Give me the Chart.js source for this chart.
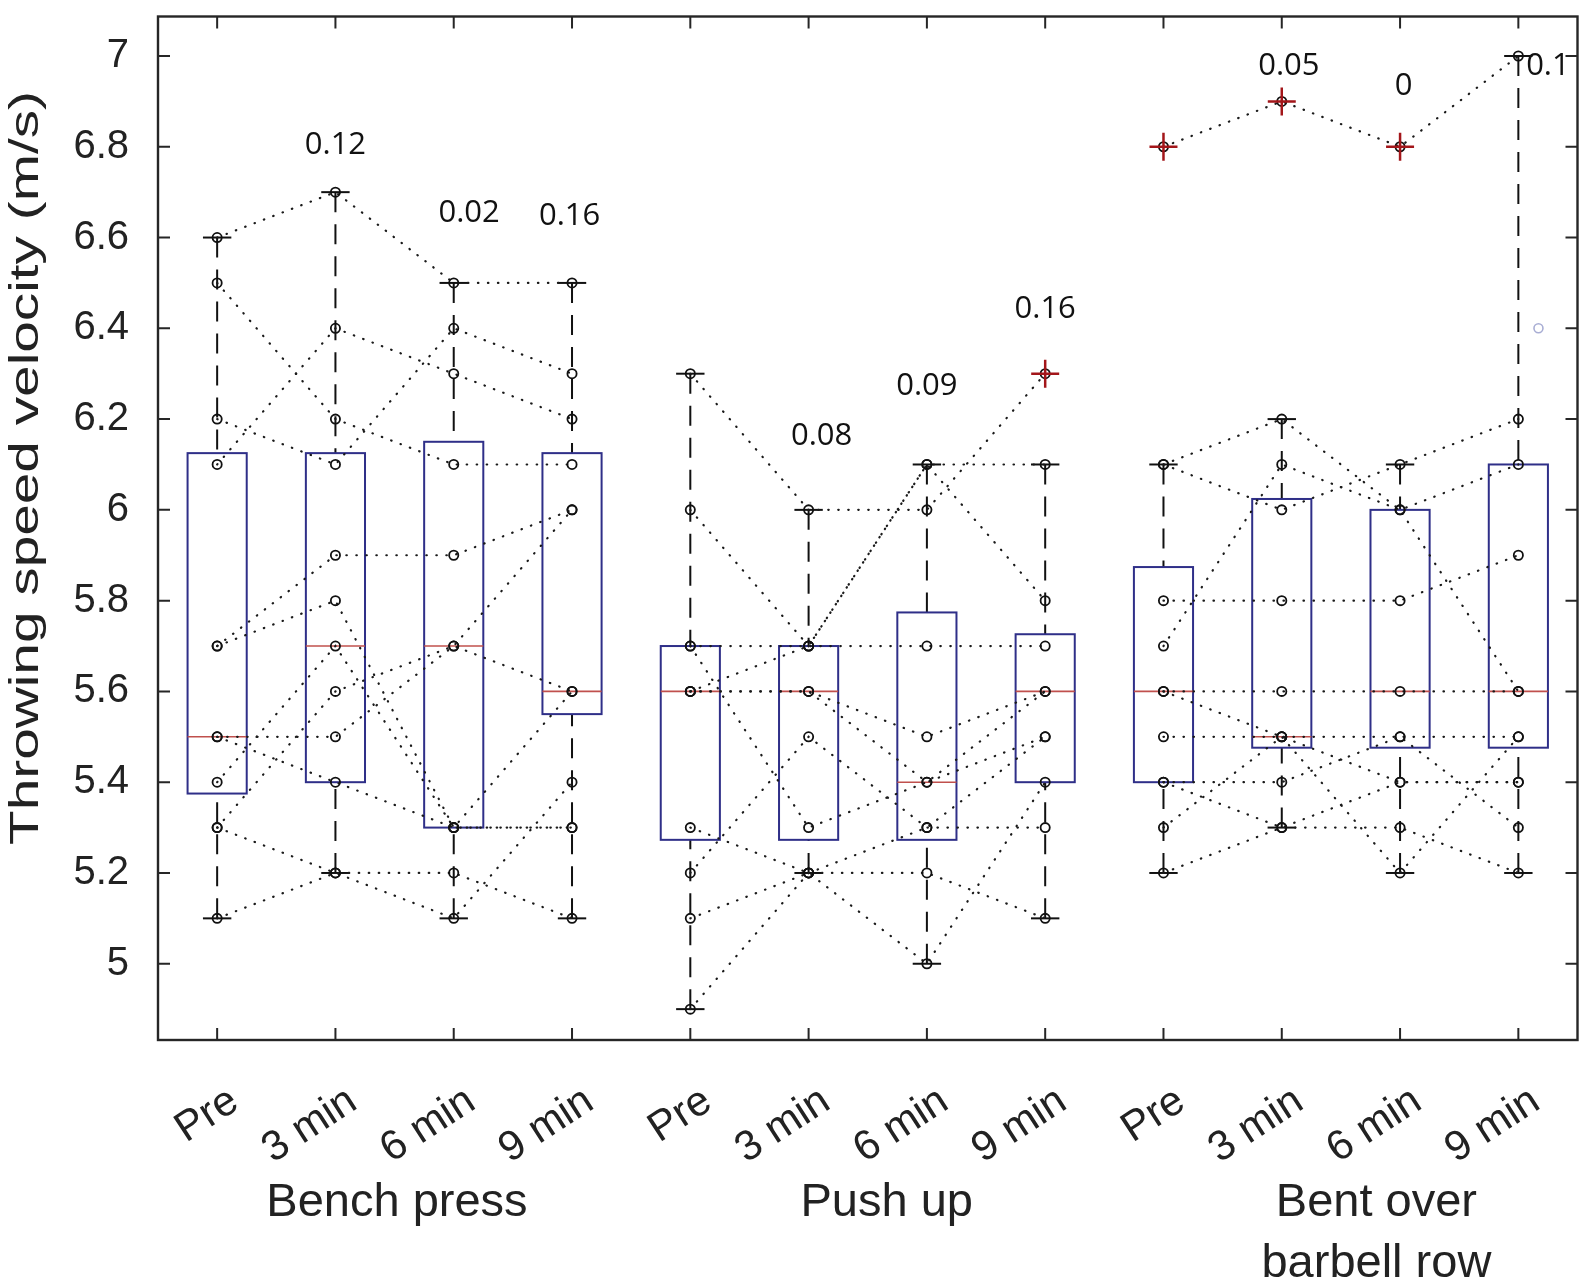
<!DOCTYPE html>
<html>
<head>
<meta charset="utf-8">
<script src="https://cdn.jsdelivr.net/npm/chart.js@4.4.1/dist/chart.umd.min.js"></script>
<style>
  html, body { margin: 0; padding: 0; background: #fff; }
  #wrap { width: 1594px; height: 1287px; }
</style>
</head>
<body>
<div id="wrap"><canvas id="chart" width="1594" height="1287"></canvas></div>
<script>
// Throwing speed velocity per time point, three exercises

const categories = ['Pre', '3 min', '6 min', '9 min', 'Pre', '3 min', '6 min', '9 min', 'Pre', '3 min', '6 min', '9 min'];
const groupNames = [['Bench press'], ['Push up'], ['Bent over', 'barbell row']];
const groupCenters = [2.52, 6.66, 10.8];
const yTicks = [5, 5.2, 5.4, 5.6, 5.8, 6, 6.2, 6.4, 6.6, 6.8, 7];

// individual subjects: [Pre, 3 min, 6 min, 9 min]
const benchSubjects = [
  [6.6, 6.7, 6.5, 6.5],
  [6.5, 6.2, 6.1, 6.1],
  [6.1, 6.4, 6.3, 6.2],
  [6.2, 6.1, 6.4, 6.3],
  [5.7, 5.9, 5.9, 6.0],
  [5.7, 5.8, 5.3, 5.6],
  [5.4, 5.7, 5.3, 5.3],
  [5.5, 5.5, 5.7, 6.0],
  [5.5, 5.4, 5.3, 5.3],
  [5.3, 5.6, 5.7, 5.6],
  [5.1, 5.2, 5.1, 5.4],
  [5.3, 5.2, 5.2, 5.1]
];
const pushSubjects = [
  [6.3, 6.0, 6.0, 6.3],
  [6.0, 5.7, 6.1, 5.8],
  [5.7, 5.7, 5.7, 5.7],
  [5.7, 5.3, 5.4, 5.6],
  [5.6, 5.6, 5.5, 5.6],
  [5.6, 5.6, 5.4, 5.5],
  [5.3, 5.2, 5.2, 5.1],
  [5.2, 5.5, 5.3, 5.3],
  [5.1, 5.2, 5.0, 5.4],
  [4.9, 5.2, 5.3, 5.5],
  [5.6, 5.7, 6.1, 6.1]
];
const rowSubjects = [
  [6.8, 6.9, 6.8, 7.0],
  [6.1, 6.2, 6.0, 5.6],
  [6.1, 6.0, 6.1, 6.2],
  [5.8, 5.8, 5.8, 5.9],
  [5.7, 6.1, 6.0, 6.1],
  [5.6, 5.6, 5.6, 5.6],
  [5.5, 5.5, 5.5, 5.5],
  [5.4, 5.3, 5.3, 5.2],
  [5.3, 5.5, 5.2, 5.5],
  [5.2, 5.3, 5.4, 5.4],
  [5.4, 5.4, 5.5, 5.3],
  [5.6, 5.5, 5.4, 5.4]
];

// box statistics
const whiskerLow  = [5.1, 5.2, 5.1, 5.1, 4.9, 5.2, 5.0, 5.1, 5.2, 5.3, 5.2, 5.2];
const quart1      = [5.375, 5.4, 5.3, 5.55, 5.273, 5.273, 5.273, 5.4, 5.4, 5.476, 5.476, 5.476];
const medians     = [5.5, 5.7, 5.7, 5.6, 5.6, 5.6, 5.4, 5.6, 5.6, 5.5, 5.6, 5.6];
const quart3      = [6.125, 6.125, 6.15, 6.125, 5.7, 5.7, 5.774, 5.726, 5.874, 6.024, 6.0, 6.1];
const whiskerHigh = [6.6, 6.7, 6.5, 6.5, 6.3, 6.0, 6.1, 6.1, 6.1, 6.2, 6.1, 7.0];

const outlierX = [8, 9, 10, 11];
const outlierY = [6.3, 6.8, 6.9, 6.8];
const strayX = [12.17];
const strayY = [6.4];

// p values written over the columns
const pLabels = ['0.12', '0.02', '0.16', '0.08', '0.09', '0.16', '0.05', '0', '0.1'];
const pX = [2, 3.13, 3.98, 6.11, 7, 8, 10.06, 11.03, 12.25];
const pY = [6.803, 6.653, 6.648, 6.163, 6.273, 6.443, 6.978, 6.933, 6.978];

const FONT = '"Liberation Sans", Arial, sans-serif';

function subjectSets(subjects, offset) {
  return subjects.map(s => ({
    type: 'line',
    data: s.map((v, k) => ({ x: offset + k, y: v })),
    borderColor: '#1a1a1a',
    borderWidth: 2.2,
    borderDash: [0.5, 9.5],
    borderCapStyle: 'round',
    pointStyle: 'circle',
    pointRadius: 4.6,
    pointBorderWidth: 1.8,
    pointBorderColor: '#111',
    pointBackgroundColor: 'rgba(0,0,0,0)',
    tension: 0,
    fill: false
  }));
}

const boxPlugin = {
  id: 'boxes',
  beforeDatasetsDraw(chart) {
    const { ctx, scales: { x, y } } = chart;
    const seg = (x1, y1, x2, y2) => { ctx.beginPath(); ctx.moveTo(x1, y1); ctx.lineTo(x2, y2); ctx.stroke(); };
    ctx.save();
    for (let i = 0; i < categories.length; i++) {
      const c = i + 1;
      const xc = x.getPixelForValue(c);
      const xl = x.getPixelForValue(c - 0.25);
      const xr = x.getPixelForValue(c + 0.25);
      const cl = x.getPixelForValue(c - 0.12);
      const cr = x.getPixelForValue(c + 0.12);

      // whiskers
      ctx.strokeStyle = '#111';
      ctx.lineWidth = 2;
      ctx.setLineDash([20, 12]);
      seg(xc, y.getPixelForValue(whiskerHigh[i]), xc, y.getPixelForValue(quart3[i]));
      seg(xc, y.getPixelForValue(whiskerLow[i]), xc, y.getPixelForValue(quart1[i]));
      ctx.setLineDash([]);
      seg(cl, y.getPixelForValue(whiskerHigh[i]), cr, y.getPixelForValue(whiskerHigh[i]));
      seg(cl, y.getPixelForValue(whiskerLow[i]), cr, y.getPixelForValue(whiskerLow[i]));

      // box
      ctx.strokeStyle = '#2f2f88';
      ctx.lineWidth = 2;
      const yt = y.getPixelForValue(quart3[i]);
      const yb = y.getPixelForValue(quart1[i]);
      ctx.strokeRect(xl, yt, xr - xl, yb - yt);

      // median
      ctx.strokeStyle = '#c0504d';
      ctx.lineWidth = 1.6;
      const ym = y.getPixelForValue(medians[i]);
      seg(xl, ym, xr, ym);
    }
    ctx.restore();
  },
  afterDatasetsDraw(chart) {
    const { ctx, chartArea: a, scales: { x, y } } = chart;
    ctx.save();

    // axes frame and inward ticks
    ctx.strokeStyle = '#262626';
    ctx.lineWidth = 2.4;
    ctx.strokeRect(a.left, a.top, a.right - a.left, a.bottom - a.top);
    ctx.lineWidth = 2;
    ctx.beginPath();
    yTicks.forEach(v => {
      const py = y.getPixelForValue(v);
      ctx.moveTo(a.left, py); ctx.lineTo(a.left + 12, py);
      ctx.moveTo(a.right, py); ctx.lineTo(a.right - 12, py);
    });
    categories.forEach((_, i) => {
      const px = x.getPixelForValue(i + 1);
      ctx.moveTo(px, a.bottom); ctx.lineTo(px, a.bottom - 12);
      ctx.moveTo(px, a.top); ctx.lineTo(px, a.top + 12);
    });
    ctx.stroke();

    // p values
    ctx.fillStyle = '#111';
    ctx.font = '31px "Open Sans", "Noto Sans", sans-serif';
    ctx.textAlign = 'center';
    ctx.textBaseline = 'middle';
    pLabels.forEach((t, i) => {
      ctx.fillText(t, x.getPixelForValue(pX[i]), y.getPixelForValue(pY[i]));
    });

    // rotated category labels
    ctx.fillStyle = '#222';
    ctx.font = '42px ' + FONT;
    ctx.textAlign = 'right';
    ctx.textBaseline = 'top';
    categories.forEach((t, i) => {
      ctx.save();
      ctx.translate(x.getPixelForValue(i + 1) + 6, a.bottom + 40);
      ctx.rotate(-33 * Math.PI / 180);
      ctx.fillText(t, 0, 0);
      ctx.restore();
    });

    // group labels
    ctx.font = '47px ' + FONT;
    ctx.textAlign = 'center';
    ctx.textBaseline = 'middle';
    groupNames.forEach((lines, g) => {
      lines.forEach((t, k) => {
        ctx.fillText(t, x.getPixelForValue(groupCenters[g]), a.bottom + 163 + k * 61);
      });
    });

    // y axis title, stretched along its length like the original
    ctx.save();
    ctx.font = '40px ' + FONT;
    ctx.textAlign = 'center';
    ctx.textBaseline = 'middle';
    const title = 'Throwing speed velocity (m/s)';
    const w = ctx.measureText(title).width;
    ctx.translate(27, 468);
    ctx.rotate(-Math.PI / 2);
    ctx.scale(754 / w, 1);
    ctx.fillText(title, 0, 0);
    ctx.restore();

    ctx.restore();
  }
};

const datasets = [
  ...subjectSets(benchSubjects, 1),
  ...subjectSets(pushSubjects, 5),
  ...subjectSets(rowSubjects, 9),
  {
    type: 'scatter',
    data: outlierX.map((v, i) => ({ x: v, y: outlierY[i] })),
    pointStyle: 'cross',
    pointRadius: 14,
    pointBorderWidth: 2.5,
    pointBorderColor: '#a3161a',
    order: -1
  },
  {
    type: 'scatter',
    data: strayX.map((v, i) => ({ x: v, y: strayY[i] })),
    pointStyle: 'circle',
    pointRadius: 4.5,
    pointBorderWidth: 1.6,
    pointBorderColor: '#a9aed4',
    pointBackgroundColor: 'rgba(0,0,0,0)'
  }
];

new Chart(document.getElementById('chart'), {
  type: 'line',
  data: { datasets },
  plugins: [boxPlugin],
  options: {
    responsive: false,
    animation: false,
    devicePixelRatio: 1,
    events: [],
    layout: { padding: { left: 0, right: 6, top: 8, bottom: 247 } },
    plugins: { legend: { display: false }, tooltip: { enabled: false } },
    scales: {
      x: { type: 'linear', min: 0.5, max: 12.5, display: false },
      y: {
        type: 'linear',
        min: 4.832,
        max: 7.087,
        grid: { display: false },
        border: { display: false },
        afterBuildTicks: s => { s.ticks = yTicks.map(v => ({ value: v })); },
        afterFit: s => { s.width = 158; s.paddingTop = 0; s.paddingBottom = 0; },
        ticks: {
          padding: 21,
          color: '#222',
          font: { family: FONT, size: 40 },
          callback: v => String(+v.toFixed(1))
        }
      }
    }
  }
});
</script>
</body>
</html>
